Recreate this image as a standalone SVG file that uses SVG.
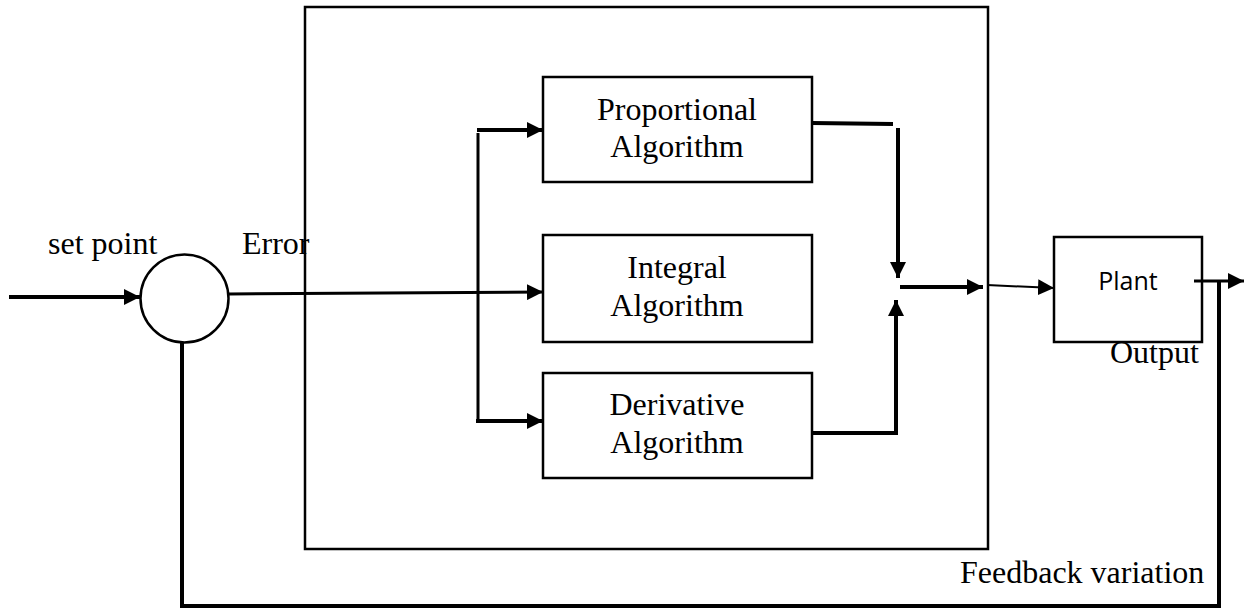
<svg xmlns="http://www.w3.org/2000/svg" width="1244" height="611" viewBox="0 0 1244 611">
<defs>
<marker id="ah" markerUnits="userSpaceOnUse" markerWidth="18" markerHeight="16" refX="16" refY="8" orient="auto">
<path d="M0,0 L16,8 L0,16 Z" fill="#000"/>
</marker>
<style>
.box{fill:#fff;stroke:#000;stroke-width:2.5}
.t{font-family:"Liberation Serif","Times New Roman",serif;font-size:32px;fill:#000}
.s{font-family:"Open Sans","Liberation Sans",sans-serif;font-size:25px;fill:#000}
.w{fill:none;stroke:#000;stroke-width:4}
.n{fill:none;stroke:#000;stroke-width:3}
.thin{fill:none;stroke:#000;stroke-width:2}
</style>
</defs>
<rect width="1244" height="611" fill="#fff"/>
<g id="controller">
<rect class="box" x="305" y="7" width="683" height="542"/>
</g>
<g id="sum">
<circle cx="184.5" cy="298.5" r="44" fill="#fff" stroke="#000" stroke-width="2.5"/>
</g>
<g id="proportional">
<rect class="box" x="543" y="77" width="269" height="105"/>
<text class="t" x="677" y="120" text-anchor="middle">Proportional</text>
<text class="t" x="677" y="157" text-anchor="middle">Algorithm</text>
</g>
<g id="integral">
<rect class="box" x="543" y="235" width="269" height="107"/>
<text class="t" x="677" y="278" text-anchor="middle">Integral</text>
<text class="t" x="677" y="316" text-anchor="middle">Algorithm</text>
</g>
<g id="derivative">
<rect class="box" x="543" y="373" width="269" height="105"/>
<text class="t" x="677" y="415" text-anchor="middle">Derivative</text>
<text class="t" x="677" y="453" text-anchor="middle">Algorithm</text>
</g>
<g id="plant">
<rect class="box" x="1054" y="237" width="148" height="105"/>
<text class="s" x="1128" y="290" text-anchor="middle">Plant</text>
</g>
<g id="labels">
<text class="t" x="48" y="254">set point</text>
<text class="t" x="242" y="254">Error</text>
<text class="t" x="1110" y="363">Output</text>
<text class="t" x="960" y="583">Feedback variation</text>
</g>
<g id="connectors">
<line class="w" x1="9" y1="297" x2="140" y2="297" marker-end="url(#ah)"/>
<line class="n" x1="229" y1="294" x2="543" y2="292" marker-end="url(#ah)"/>
<line class="n" x1="478" y1="133" x2="478" y2="421"/>
<line class="w" x1="477" y1="130" x2="543" y2="130" marker-end="url(#ah)"/>
<line class="w" x1="476" y1="421" x2="543" y2="421" marker-end="url(#ah)"/>
<line class="w" x1="812" y1="123" x2="893" y2="124"/>
<line class="w" x1="898" y1="128" x2="898" y2="278" marker-end="url(#ah)"/>
<polyline class="w" points="812,433 896,433 896,300" marker-end="url(#ah)"/>
<line class="w" x1="900" y1="287" x2="983" y2="287" marker-end="url(#ah)"/>
<line class="thin" x1="987" y1="285" x2="1054" y2="288" marker-end="url(#ah)"/>
<line class="n" x1="1194" y1="281" x2="1244" y2="281" marker-end="url(#ah)"/>
<polyline class="w" points="1219,282 1219,606 180,606"/>
<line class="w" x1="182" y1="343" x2="182" y2="608"/>
</g>
</svg>
